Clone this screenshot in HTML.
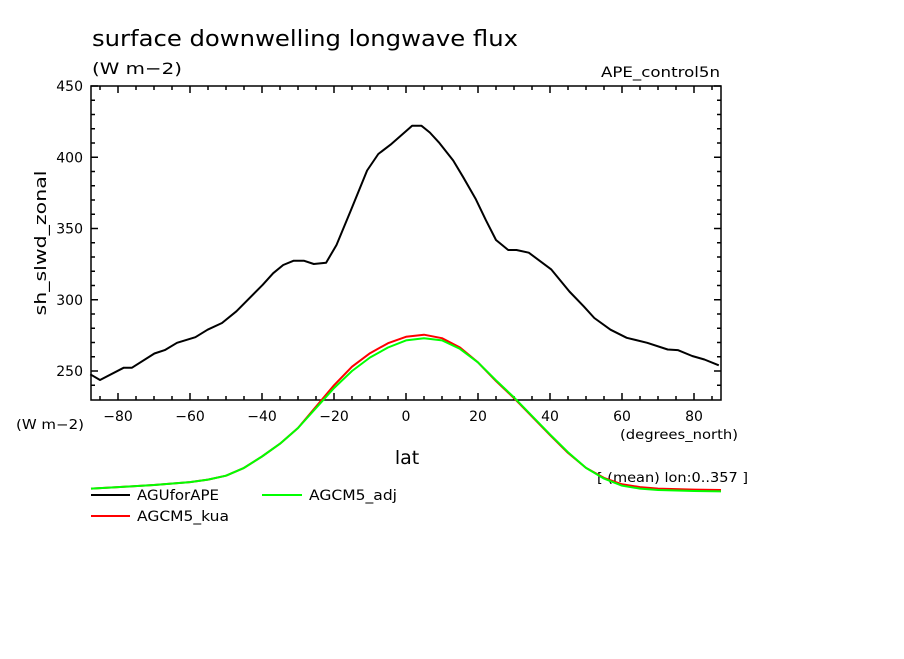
<!DOCTYPE html>
<html><head><meta charset="utf-8"><style>
body{margin:0;background:#fff;}
svg text{font-family:"DejaVu Sans","Liberation Sans",sans-serif;fill:#000;}
</style></head><body>
<svg id="chart" width="904" height="654" xmlns="http://www.w3.org/2000/svg">
<rect width="904" height="654" fill="#fff"/>
<text x="92" y="46" font-size="22" textLength="426" lengthAdjust="spacingAndGlyphs">surface downwelling longwave flux</text>
<text x="92" y="74" font-size="16" textLength="90" lengthAdjust="spacingAndGlyphs">(W m−2)</text>
<text x="601" y="77" font-size="14" textLength="119" lengthAdjust="spacingAndGlyphs">APE_control5n</text>
<text transform="translate(46,243) rotate(-90)" font-size="16" text-anchor="middle" textLength="145" lengthAdjust="spacingAndGlyphs">sh_slwd_zonal</text>
<text x="16" y="429" font-size="13" textLength="68" lengthAdjust="spacingAndGlyphs">(W m−2)</text>
<text x="620" y="439" font-size="13" textLength="118" lengthAdjust="spacingAndGlyphs">(degrees_north)</text>
<text x="407" y="464" font-size="19" text-anchor="middle">lat</text>
<text x="597" y="482" font-size="13" textLength="151" lengthAdjust="spacingAndGlyphs">[ (mean) lon:0..357 ]</text>
<g id="axes"></g>
<g id="series"></g>
<g>
<line x1="91" y1="495" x2="130" y2="495" stroke="#000" stroke-width="2"/>
<text x="137" y="500" font-size="14" textLength="82" lengthAdjust="spacingAndGlyphs">AGUforAPE</text>
<line x1="262" y1="495" x2="302" y2="495" stroke="#00ff00" stroke-width="2"/>
<text x="309" y="500" font-size="14" textLength="88" lengthAdjust="spacingAndGlyphs">AGCM5_adj</text>
<line x1="91" y1="516" x2="130" y2="516" stroke="#ff0000" stroke-width="2"/>
<text x="137" y="521" font-size="14" textLength="92" lengthAdjust="spacingAndGlyphs">AGCM5_kua</text>
</g>
</svg>
<script>
const blackLats=[-87.7,-85,-78.4,-76.1,-69.9,-67,-63.6,-58.5,-55.1,-51.1,-47.1,-39.8,-36.9,-34.1,-31.2,-28.4,-25.6,-22.2,-19.3,-15.3,-10.8,-7.7,-4.3,1.7,4.3,6.6,9.1,13.1,15.9,19.3,22.2,25,28.4,30.7,34.1,40.3,45.4,49.4,52.3,56.8,61.3,67,72.7,75.5,79.5,82.9,86.9];
const blackVals=[247.7,243.7,252.3,252.3,262.3,264.7,269.8,273.7,279,283.7,291.9,310.5,318.6,324.4,327.4,327.4,325.1,326,338.4,362.8,390.7,402.3,408.8,422.1,422.1,417.4,410.5,397.7,386,371,355.8,341.9,334.9,334.9,333,321.4,305.8,295.3,287.2,279,273.3,269.8,265.1,264.7,260.5,258.1,254];
const modelLats=[-87.5,-80,-70,-60,-55,-50,-45,-40,-35,-30,-25,-20,-15,-10,-5,0,5,10,15,20,25,30,35,40,45,50,55,60,65,70,80,87.5];
const kuaVals=[167.5,168.5,170,172,173.8,176.5,182,190,199,210,225,240,253,262.5,269.5,274,275.5,273,266.5,256,243,231,218,205,192.5,182,175,170.5,168.5,167.5,166.8,166.5];
const adjVals=[167.5,168.5,170,172,173.8,176.5,182,190,199,210,224,238,250,259.5,266.5,271.5,273,271.5,265.5,256,243.5,231.5,218.5,205.5,193,182,174.5,169.5,167.5,166.5,165.8,165.5];
const yTicks=[250,300,350,400,450];
const xTicks=[-80,-60,-40,-20,0,20,40,60,80];
const X0=91,X1=721,Y0=400,Y1=86;
const xs=v=>406+v*3.6;
const ys=v=>371-(v-250)*1.425;
const NS="http://www.w3.org/2000/svg";
const axes=document.getElementById('axes');
const ser=document.getElementById('series');
function mk(tag,attrs,parent){const e=document.createElementNS(NS,tag);for(const k in attrs)e.setAttribute(k,attrs[k]);parent.appendChild(e);return e;}
const frame=mk('rect',{x:X0,y:Y1,width:X1-X0,height:Y0-Y1,fill:'none',stroke:'#000','stroke-width':1.5},axes);


for(let v=240;v<=450;v+=10){const y=ys(v);if(y>Y0||y<Y1)continue;const L=(v%50===0)?7:4;
mk('line',{x1:X0,y1:y,x2:X0+L,y2:y,stroke:'#000','stroke-width':1.5},axes);
mk('line',{x1:X1,y1:y,x2:X1-L,y2:y,stroke:'#000','stroke-width':1.5},axes);}
yTicks.forEach(v=>{const t=mk('text',{x:83,y:ys(v)+5,'font-size':14,'text-anchor':'end'},axes);t.textContent=v;

});
for(let v=-85;v<=85;v+=5){const x=xs(v);const L=(v%20===0)?7:4;
mk('line',{x1:x,y1:Y0,x2:x,y2:Y0-L,stroke:'#000','stroke-width':1.5},axes);
mk('line',{x1:x,y1:Y1,x2:x,y2:Y1+L,stroke:'#000','stroke-width':1.5},axes);}
xTicks.forEach(v=>{const t=mk('text',{x:xs(v),y:421,'font-size':14,'text-anchor':'middle'},axes);t.textContent=(v<0?'−':'')+Math.abs(v);

});
function line(lats,vals,color,name){const p=lats.map((l,i)=>xs(l).toFixed(1)+','+ys(vals[i]).toFixed(1)).join(' ');
const e=mk('polyline',{points:p,fill:'none',stroke:color,'stroke-width':2,'stroke-linejoin':'round'},ser);

}
line(modelLats,kuaVals,'#ff0000','series-agcm5-kua');
line(modelLats,adjVals,'#00ff00','series-agcm5-adj');
line(blackLats,blackVals,'#000','series-aguforape');
</script>
</body></html>
